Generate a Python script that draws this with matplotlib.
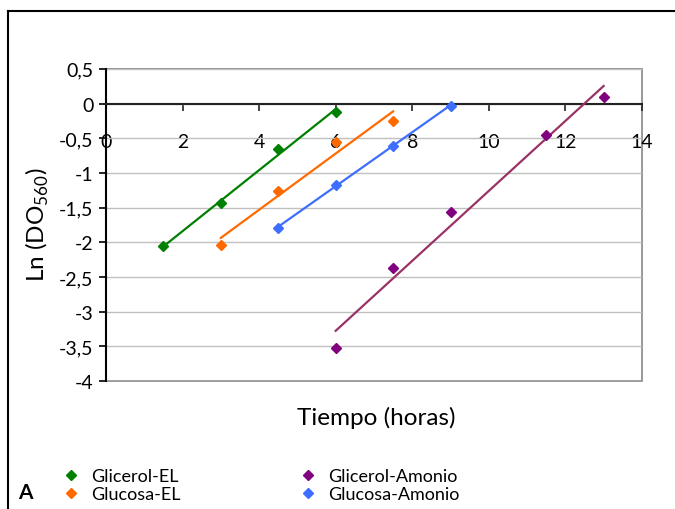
import matplotlib
matplotlib.use('Agg')
import matplotlib.pyplot as plt
import numpy as np
from matplotlib.lines import Line2D
from matplotlib.patches import Rectangle
from matplotlib.ticker import FuncFormatter, MultipleLocator

plt.rcParams['font.family'] = ['Lato', 'DejaVu Sans']
plt.rcParams['mathtext.fontset'] = 'custom'
plt.rcParams['mathtext.rm'] = 'Lato'

# Data
series_names = ['Glicerol-EL', 'Glucosa-EL', 'Glicerol-Amonio', 'Glucosa-Amonio']

glicerol_el_t = [1.5, 3, 4.5, 6]
glicerol_el_ln = [-2.06, -1.44, -0.66, -0.12]

glucosa_el_t = [3, 4.5, 6, 7.5]
glucosa_el_ln = [-2.04, -1.26, -0.55, -0.25]

glicerol_am_t = [6, 7.5, 9, 11.5, 13]
glicerol_am_ln = [-3.52, -2.37, -1.56, -0.46, 0.10]

glucosa_am_t = [4.5, 6, 7.5, 9]
glucosa_am_ln = [-1.79, -1.17, -0.61, -0.03]

marker_colors = ['#008000', '#ff6a00', '#800080', '#3d6eff']
trend_colors = ['#008000', '#ff6a00', '#993366', '#3d6eff']

fig = plt.figure(figsize=(6.75, 5.1), dpi=100)
ax = fig.add_axes([0.157, 0.251, 0.794, 0.612])

all_t = [glicerol_el_t, glucosa_el_t, glicerol_am_t, glucosa_am_t]
all_ln = [glicerol_el_ln, glucosa_el_ln, glicerol_am_ln, glucosa_am_ln]

handles = []
for name, t, ln, mc, tc in zip(series_names, all_t, all_ln, marker_colors, trend_colors):
    t = np.array(t)
    # linear trend line, as in the spreadsheet
    slope, icpt = np.polyfit(t, ln, 1)
    xs = np.array([t.min(), t.max()])
    ax.plot(xs, slope * xs + icpt, color=tc, lw=1.6, zorder=3)
    h, = ax.plot(t, ln, 'D', color=mc, ms=5.5, ls='none', zorder=4, label=name)
    handles.append(h)

ax.set_xlim(0, 14)
ax.set_ylim(-4, 0.5)
ax.xaxis.set_major_locator(MultipleLocator(2))
ax.yaxis.set_major_locator(MultipleLocator(0.5))

fmt = FuncFormatter(lambda v, p: ('%g' % v).replace('.', ','))
ax.yaxis.set_major_formatter(fmt)
ax.xaxis.set_major_formatter(fmt)

ax.grid(axis='y', color='#c0c0c0', lw=1.0)
ax.set_axisbelow(True)

for s in ['top', 'right']:
    ax.spines[s].set_visible(False)
ax.spines['bottom'].set_position(('data', 0))
ax.spines['bottom'].set_color('#222222')
ax.spines['bottom'].set_linewidth(1.5)
ax.spines['left'].set_color('black')
ax.spines['left'].set_linewidth(1.5)
ax.add_patch(Rectangle((0, 0), 1, 1, transform=ax.transAxes, fill=False,
                       edgecolor='#888888', lw=1.2, zorder=0.5, clip_on=False))

ax.tick_params(axis='x', direction='out', length=5, width=1.2, pad=16,
               labelsize=14, color='#222222')
ax.tick_params(axis='y', direction='out', length=5, width=1.2, pad=4, labelsize=14)

fig.text(0.557, 0.180, 'Tiempo (horas)', fontsize=17.5, ha='center', va='center')
fig.text(0.055, 0.559, 'Ln (DO$_{\\mathrm{560}}$)', fontsize=17.5, ha='center',
         va='center', rotation=90)

fig.legend(handles=handles, ncol=2, loc='lower left', bbox_to_anchor=(0.068, -0.018),
           frameon=False, fontsize=13, handlelength=1.0, handletextpad=0.6,
           columnspacing=6.55, labelspacing=0.1)

fig.text(0.027, 0.022, 'A', fontsize=15, fontweight='bold')

# figure border (top and left)
fig.add_artist(Line2D([0.012, 1.0], [0.976, 0.976], color='black', lw=1.5,
                      transform=fig.transFigure))
fig.add_artist(Line2D([0.012, 0.012], [0.0, 0.976], color='black', lw=1.5,
                      transform=fig.transFigure))

fig.savefig('out.png', dpi=100)
